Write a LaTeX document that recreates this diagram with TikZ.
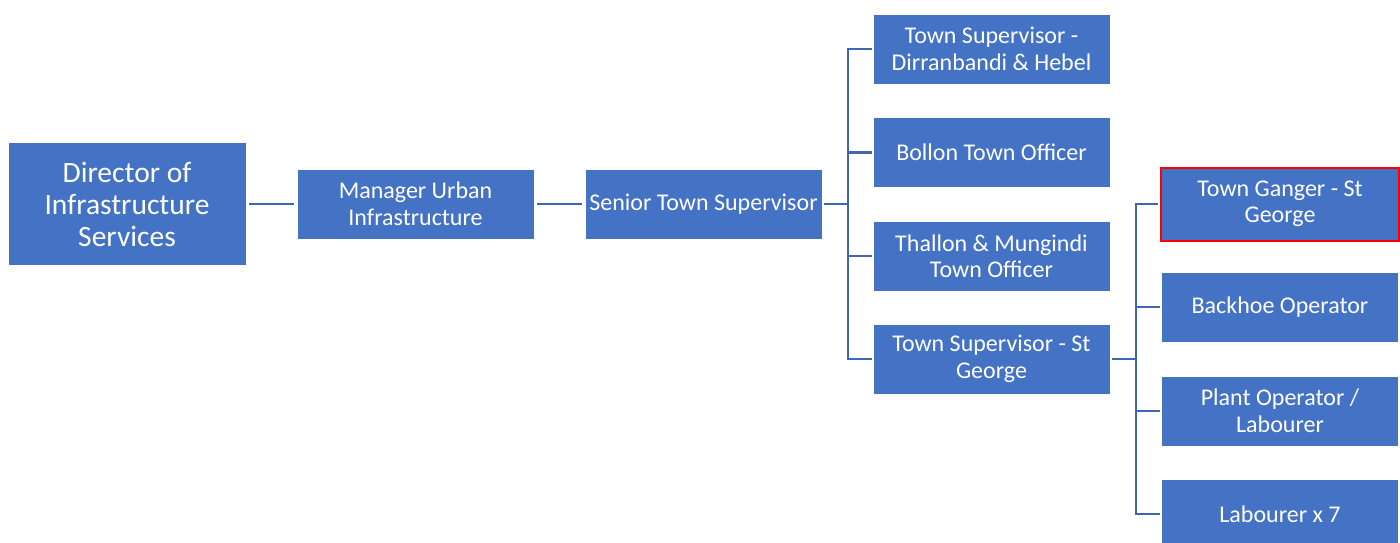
\documentclass[tikz,border=0pt]{standalone}
\usepackage{fontspec}
\setmainfont{Carlito}
\definecolor{boxblue}{HTML}{4472C4}
\definecolor{lineblue}{HTML}{3F67B1}
\definecolor{hlred}{HTML}{FF0000}
\begin{document}
\begin{tikzpicture}[x=1pt,y=-1pt,
  box/.style={fill=boxblue, draw=white, line width=0.6pt, text=white, align=center, inner sep=0pt,
    minimum width=237pt, minimum height=70pt, font=\fontsize{24}{26.5}\selectfont},
  bigbox/.style={box, minimum width=238pt, minimum height=123pt, font=\fontsize{29.5}{32}\selectfont},
  conn/.style={draw=lineblue, line width=2.2pt}]
\useasboundingbox (0,0) rectangle (1400,543);
\begin{scope}
\clip (0,0) rectangle (1400,543);
\node[bigbox] (dir) at (127,204) {Director of\\Infrastructure\\Services};
\node[box] (mgr) at (415.5,204) {Manager Urban\\Infrastructure};
\node[box] (sts) at (703.5,204) {Senior Town Supervisor};
\node[box] (dh) at (991.5,49) {Town Supervisor -\\Dirranbandi \& Hebel};
\node[box] (bo) at (991.5,152.5) {Bollon Town Officer};
\node[box] (tm) at (991.5,256) {Thallon \& Mungindi\\Town Officer};
\node[box] (sg) at (991.5,359) {Town Supervisor - St\\George};
\node[box, draw=hlred, line width=2pt, minimum height=73pt, minimum width=238pt] (tg) at (1280,204) {Town Ganger - St\\George};
\node[box] (bh) at (1280,307) {Backhoe Operator};
\node[box] (po) at (1280,411) {Plant Operator /\\Labourer};
\node[box] (lb) at (1280,514) {Labourer x 7};
\end{scope}
\coordinate (j1) at (848,0);
\coordinate (j2) at (1136,0);
\draw[conn] ([xshift=3pt]dir.east) -- ([xshift=-3pt]mgr.west);
\draw[conn] ([xshift=3pt]mgr.east) -- ([xshift=-3pt]sts.west);
\draw[conn] ([xshift=2pt]sts.east) -- (sts.east -| j1);
\draw[conn] ([xshift=-1pt]dh.west) -- (dh.west -| j1) -- (sg.west -| j1) -- ([xshift=-1pt]sg.west);
\draw[conn] ([xshift=-1pt]bo.west) -- (bo.west -| j1);
\draw[conn] ([xshift=-1pt]tm.west) -- (tm.west -| j1);
\draw[conn] ([xshift=2pt]sg.east) -- (sg.east -| j2);
\draw[conn] ([xshift=-2pt]tg.west) -- (tg.west -| j2) -- (lb.west -| j2) -- ([xshift=-1pt]lb.west);
\draw[conn] ([xshift=-1pt]bh.west) -- (bh.west -| j2);
\draw[conn] ([xshift=-1pt]po.west) -- (po.west -| j2);
\end{tikzpicture}
\end{document}
